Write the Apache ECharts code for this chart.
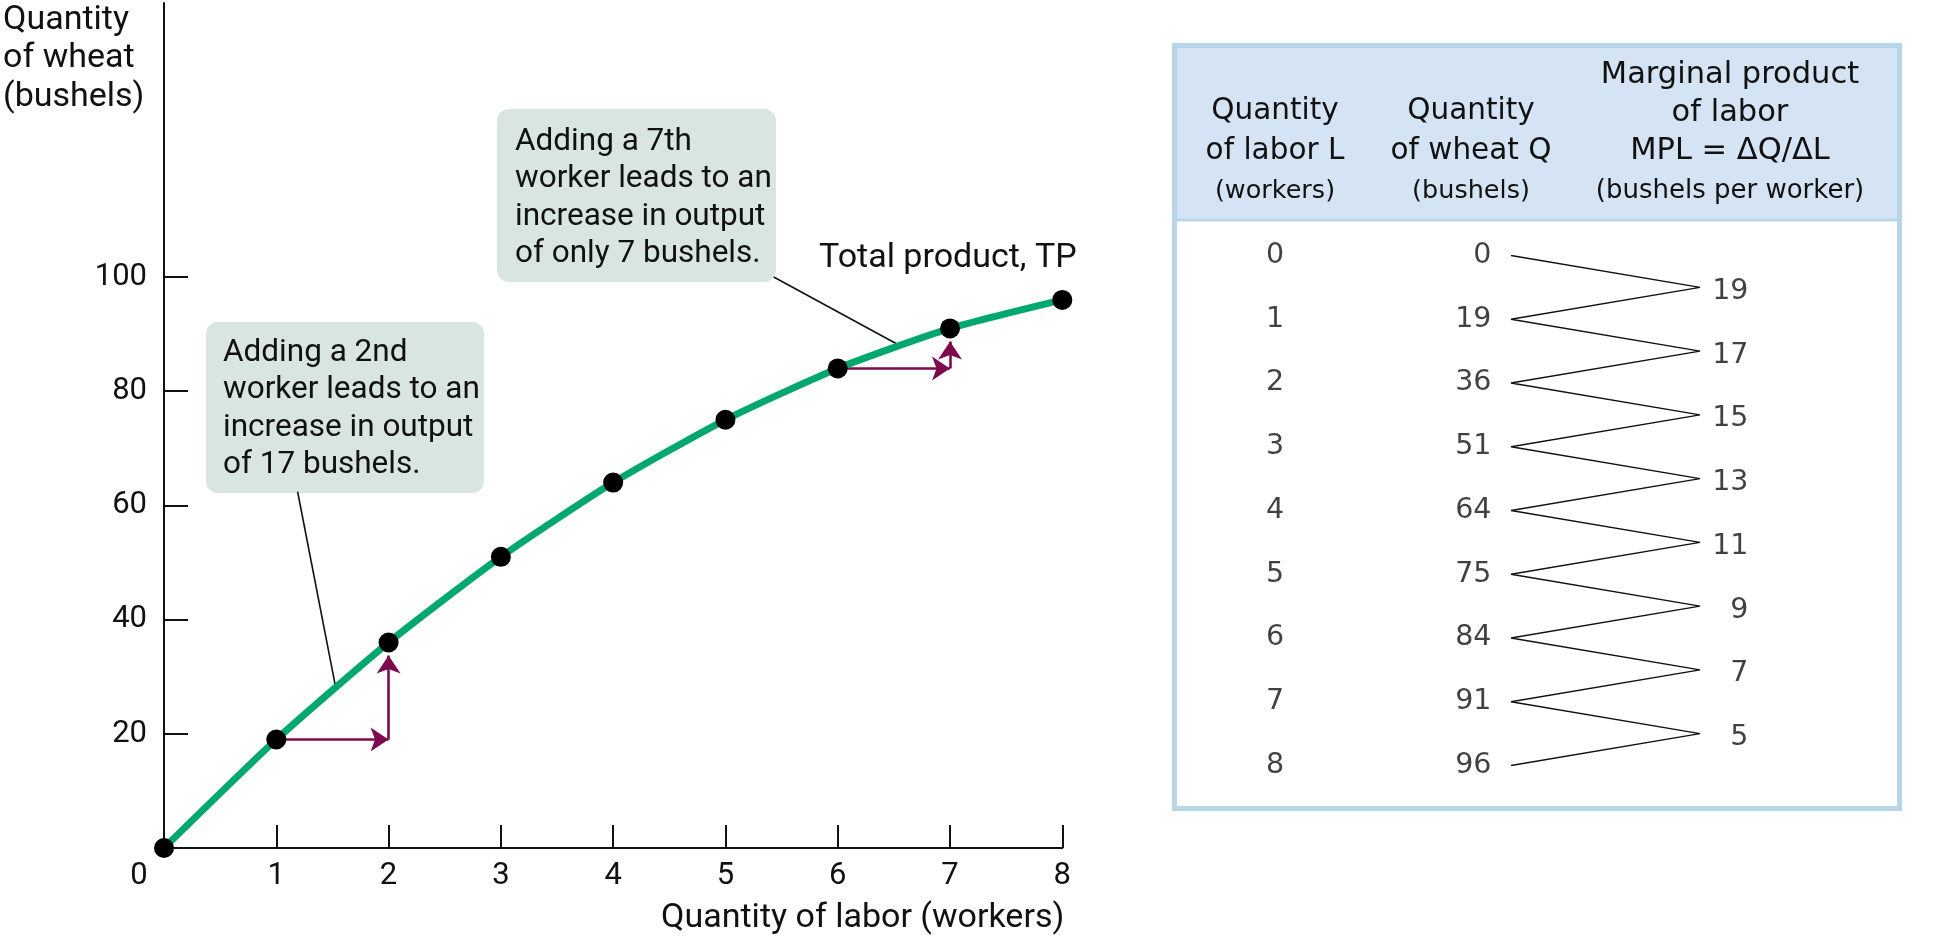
<!DOCTYPE html>
<html>
<head>
<meta charset="utf-8">
<script src="https://cdn.jsdelivr.net/npm/echarts@6/dist/echarts.min.js"></script>
<style>
html,body{margin:0;padding:0;background:#fff;}
#chart{width:1940px;height:946px;}
</style>
</head>
<body>
<div id="chart"></div>
<script>
// ---- data ----
const labor = [0, 1, 2, 3, 4, 5, 6, 7, 8];
const wheat = [0, 19, 36, 51, 64, 75, 84, 91, 96];
const mpl = [19, 17, 15, 13, 11, 9, 7, 5];
const yTicks = [20, 40, 60, 80, 100];
const xTitle = 'Quantity of labor (workers)';
const yTitle = ['Quantity', 'of wheat', '(bushels)'];
const curveLabel = 'Total product, TP';
const callout1 = ['Adding a 2nd', 'worker leads to an', 'increase in output', 'of 17 bushels.'];
const callout2 = ['Adding a 7th', 'worker leads to an', 'increase in output', 'of only 7 bushels.'];
const headL = ['Quantity', 'of labor L', '(workers)'];
const headQ = ['Quantity', 'of wheat Q', '(bushels)'];
const headM = ['Marginal product', 'of labor', 'MPL = \u0394Q/\u0394L', '(bushels per worker)'];

// ---- styling constants ----
const GREEN = '#00a870';
const PURPLE = '#7d0a4e';
const INK = '#111';
const BOX = '#d9e5e1';
const TBL_BORDER = '#b7d5e8';
const TBL_HEAD = '#d5e4f5';
const CF = 'Roboto, "Noto Sans", sans-serif';
const TF = '"DejaVu Sans", Verdana, sans-serif';

// arrow tips stop just below the dots (in y units)
const backY = 2.3;

const arrows = [
  {coords: [[labor[1], wheat[1]], [labor[2], wheat[1]]]},
  {coords: [[labor[2], wheat[1]], [labor[2], wheat[2] - backY]]},
  {coords: [[labor[6], wheat[6]], [labor[7], wheat[6]]]},
  {coords: [[labor[7], wheat[6]], [labor[7], wheat[7] - backY]]}
];

function onCurve(i, t) {
  return [labor[i] + t * (labor[i + 1] - labor[i]), wheat[i] + t * (wheat[i + 1] - wheat[i])];
}
const pointers = [
  {coords: [[1.19, 62.4], onCurve(1, 0.53)]},
  {coords: [[5.43, 100.0], onCurve(6, 0.56)]}
];

// zigzag in the table
const zig = [];
labor.forEach((l, i) => {
  zig.push([0, i]);
  if (i < labor.length - 1) zig.push([1, i + 0.5]);
});

function textLines(lines, x, y0, lh, font, align) {
  return lines.map((t, k) => ({
    type: 'text', silent: true,
    style: {text: t, x: x, y: y0 + k * lh, font: font, fill: INK,
      textAlign: align || 'left', textVerticalAlign: 'middle'}
  }));
}

const graphics = [];
// table frame
graphics.push({type: 'rect', silent: true, z: -10,
  shape: {x: 1174.5, y: 45.5, width: 725, height: 763},
  style: {fill: '#fff', stroke: TBL_BORDER, lineWidth: 5}});
graphics.push({type: 'rect', silent: true, z: -9,
  shape: {x: 1177, y: 48, width: 720, height: 171},
  style: {fill: TBL_HEAD}});
graphics.push({type: 'line', silent: true, z: -8,
  shape: {x1: 1177, y1: 220, x2: 1897, y2: 220},
  style: {stroke: TBL_BORDER, lineWidth: 3}});
// headers
graphics.push(...textLines(headL.slice(0, 2), 1275, 111, 40.5, '29.5px ' + TF, 'center'));
graphics.push(...textLines([headL[2]], 1275, 191, 40, '25.5px ' + TF, 'center'));
graphics.push(...textLines(headQ.slice(0, 2), 1471, 111, 40.5, '29.5px ' + TF, 'center'));
graphics.push(...textLines([headQ[2]], 1471, 191, 40, '25.5px ' + TF, 'center'));
graphics.push(...textLines(headM.slice(0, 3), 1730, 75, 38, '30.5px ' + TF, 'center'));
graphics.push(...textLines([headM[3]], 1730, 191, 40, '26px ' + TF, 'center'));
// callout boxes
graphics.push({type: 'rect', silent: true, z: 1,
  shape: {x: 206, y: 322, width: 278, height: 171, r: 12}, style: {fill: BOX}});
graphics.push(...textLines(callout1, 223, 353, 37.5, '31.5px ' + CF).map(e => (e.z = 2, e)));
graphics.push({type: 'rect', silent: true, z: 1,
  shape: {x: 497, y: 109, width: 279, height: 173, r: 12}, style: {fill: BOX}});
graphics.push(...textLines(callout2, 515, 142, 37.5, '31.5px ' + CF).map(e => (e.z = 2, e)));
// titles
graphics.push(...textLines(yTitle, 3, 20, 38.5, '34px ' + CF));
graphics.push(...textLines([curveLabel], 819, 258, 38, '34px ' + CF));

const chart = echarts.init(document.getElementById('chart'));
chart.setOption({
  animation: false,
  backgroundColor: '#fff',
  grid: [
    {left: 164, right: 877.7, top: 3, bottom: 98},
    {left: 1511, right: 240, top: 255.5, bottom: 180.5}
  ],
  xAxis: [
    {type: 'value', gridIndex: 0, min: 0, max: 8, interval: 1,
      name: xTitle, nameLocation: 'end', nameGap: 2,
      nameTextStyle: {fontFamily: CF, fontSize: 34, color: INK, align: 'right', verticalAlign: 'top', padding: [53, 0, 0, 0]},
      axisLine: {lineStyle: {color: INK, width: 2}},
      axisTick: {inside: true, length: 23, lineStyle: {color: INK, width: 2}},
      axisLabel: {fontFamily: CF, fontSize: 31, color: INK, margin: 13,
        formatter: v => v === 0 ? '{z|0}' : String(v),
        rich: {z: {fontFamily: CF, fontSize: 31, color: INK, padding: [0, 50, 0, 0]}}},
      splitLine: {show: false}},
    {type: 'value', gridIndex: 1, min: 0, max: 1, show: false}
  ],
  yAxis: [
    {type: 'value', gridIndex: 0, min: 0, max: 148,
      axisLine: {show: true, lineStyle: {color: INK, width: 2}},
      axisTick: {show: true, inside: true, length: 24, customValues: yTicks, lineStyle: {color: INK, width: 2}},
      axisLabel: {fontFamily: CF, fontSize: 31, color: INK, margin: 17, customValues: yTicks},
      splitLine: {show: false}},
    {type: 'value', gridIndex: 1, min: 0, max: 8, inverse: true, show: false}
  ],
  graphic: graphics,
  series: [
    {type: 'lines', coordinateSystem: 'cartesian2d', xAxisIndex: 0, yAxisIndex: 0, z: 2,
      data: pointers, symbol: ['none', 'none'], silent: true,
      lineStyle: {color: INK, width: 1.6, opacity: 1}},
    {type: 'lines', coordinateSystem: 'cartesian2d', xAxisIndex: 0, yAxisIndex: 0, z: 2,
      data: arrows, symbol: ['none', 'arrow'], symbolSize: [12, 18], silent: true,
      lineStyle: {color: PURPLE, width: 2.6, opacity: 1}},
    {type: 'line', xAxisIndex: 0, yAxisIndex: 0, z: 3,
      data: labor.map((l, i) => [l, wheat[i]]),
      smooth: 0.2, symbol: 'circle', symbolSize: 20, showAllSymbol: true,
      itemStyle: {color: '#000'}, lineStyle: {color: GREEN, width: 7}, silent: true},
    {type: 'line', xAxisIndex: 1, yAxisIndex: 1, data: zig, symbol: 'none', silent: true,
      lineStyle: {color: INK, width: 1.4}},
    {type: 'scatter', xAxisIndex: 1, yAxisIndex: 1, symbolSize: 1, silent: true, clip: false,
      itemStyle: {color: 'rgba(0,0,0,0)'},
      data: labor.map((l, i) => [0, i, wheat[i]]),
      label: {show: true, position: 'left', distance: 19, formatter: p => String(p.data[2]),
        fontFamily: TF, fontSize: 28.5, color: INK}},
    {type: 'scatter', xAxisIndex: 1, yAxisIndex: 1, symbolSize: 1, silent: true, clip: false,
      itemStyle: {color: 'rgba(0,0,0,0)'},
      data: labor.map((l, i) => [0, i, l]),
      label: {show: true, position: 'inside', offset: [-236, 0], align: 'center', formatter: p => String(p.data[2]),
        fontFamily: TF, fontSize: 28.5, color: INK}},
    {type: 'scatter', xAxisIndex: 1, yAxisIndex: 1, symbolSize: 1, silent: true, clip: false,
      itemStyle: {color: 'rgba(0,0,0,0)'},
      data: mpl.map((m, i) => [1, i + 0.5, m]),
      label: {show: true, position: 'right', distance: 48, align: 'right', offset: [0, 4], formatter: p => String(p.data[2]),
        fontFamily: TF, fontSize: 28.5, color: INK}}
  ]
});
</script>
</body>
</html>
